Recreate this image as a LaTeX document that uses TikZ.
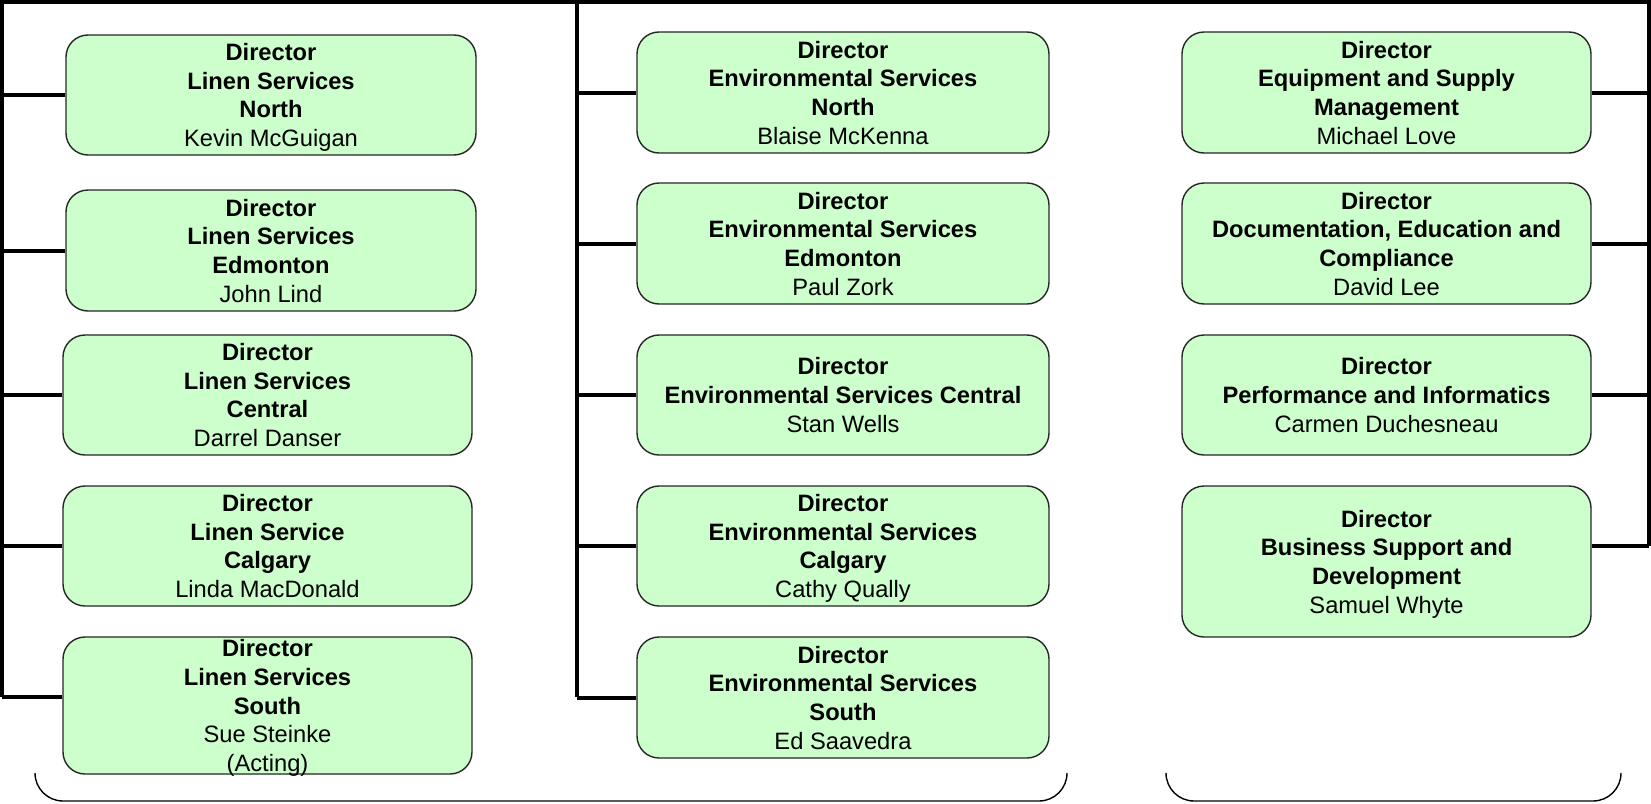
\documentclass[tikz,border=0pt]{standalone}
\usepackage{fontspec}
\setmainfont{Liberation Sans}
\newcommand\nodelast[1]{\raisebox{0pt}[\height][0pt]{#1}}
\begin{document}
\begin{tikzpicture}[x=1pt,y=-1pt,
  box/.style={draw=black!85, line width=1.4pt, fill=boxgreen, rounded corners=22pt,
    align=center, inner sep=0pt, font=\fontsize{23.7pt}{28.7pt}\selectfont},
  wL/.style={box, minimum width=409pt},
  wM/.style={box, minimum width=412pt},
  wR/.style={box, minimum width=409pt},
  trunk/.style={line width=3.6pt},
  conn/.style={line width=4pt},
  brace/.style={line width=1.4pt, rounded corners=28pt}]
\definecolor{boxgreen}{HTML}{CCFFCC}
\useasboundingbox (0,0) rectangle (1651,803);
% trunk coordinates
\coordinate (tl) at (0,1.8);
\coordinate (tr) at (1651,1.8);
\coordinate (lTop) at (1.8,0);
\coordinate (lBot) at (1.8,697);
\coordinate (mTop) at (577,0);
\coordinate (mBot) at (577,697);
\coordinate (rTop) at (1649,0);
\coordinate (rBot) at (1649,546);
% left column
\node[wL, minimum width=410pt, minimum height=120pt] (L1) at (271,95) {\textbf{Director}\\\textbf{Linen Services}\\\textbf{North}\\\nodelast{Kevin McGuigan}};
\node[wL, minimum width=410pt, minimum height=121pt] (L2) at (271,250.5) {\textbf{Director}\\\textbf{Linen Services}\\\textbf{Edmonton}\\\nodelast{John Lind}};
\node[wL, minimum height=120pt] (L3) at (267.5,395) {\textbf{Director}\\\textbf{Linen Services}\\\textbf{Central}\\\nodelast{Darrel Danser}};
\node[wL, minimum height=120pt] (L4) at (267.5,546) {\textbf{Director}\\\textbf{Linen Service}\\\textbf{Calgary}\\\nodelast{Linda MacDonald}};
\node[wL, minimum height=137pt] (L5) at (267.5,705.5) {\textbf{Director}\\\textbf{Linen Services}\\\textbf{South}\\Sue Steinke\\\nodelast{(Acting)}};
% middle column
\node[wM, minimum height=121pt] (M1) at (843,92.5) {\textbf{Director}\\\textbf{Environmental Services}\\\textbf{North}\\\nodelast{Blaise McKenna}};
\node[wM, minimum height=121pt] (M2) at (843,243.5) {\textbf{Director}\\\textbf{Environmental Services}\\\textbf{Edmonton}\\\nodelast{Paul Zork}};
\node[wM, minimum height=120pt] (M3) at (843,395) {\textbf{Director}\\\textbf{Environmental Services Central}\\\nodelast{Stan Wells}};
\node[wM, minimum height=120pt] (M4) at (843,546) {\textbf{Director}\\\textbf{Environmental Services}\\\textbf{Calgary}\\\nodelast{Cathy Qually}};
\node[wM, minimum height=121pt] (M5) at (843,697.5) {\textbf{Director}\\\textbf{Environmental Services}\\\textbf{South}\\\nodelast{Ed Saavedra}};
% right column
\node[wR, minimum height=121pt] (R1) at (1386.5,92.5) {\textbf{Director}\\\textbf{Equipment and Supply}\\\textbf{Management}\\\nodelast{Michael Love}};
\node[wR, minimum height=121pt] (R2) at (1386.5,243.5) {\textbf{Director}\\\textbf{Documentation, Education and}\\\textbf{Compliance}\\\nodelast{David Lee}};
\node[wR, minimum height=120pt] (R3) at (1386.5,395) {\textbf{Director}\\\textbf{Performance and Informatics}\\\nodelast{Carmen Duchesneau}};
\node[wR, minimum height=151pt] (R4) at (1386.5,561.5) {\textbf{Director}\\\textbf{Business Support and}\\\textbf{Development}\\\nodelast{Samuel Whyte}};
% trunks
\draw[trunk] (tl) -- (tr);
\draw[trunk] (lTop) -- (lBot);
\draw[trunk] (mTop) -- (mBot);
\draw[trunk] (rTop) -- (rBot);
% connectors
\foreach \n in {L1,L2,L3,L4} \draw[conn] (lTop |- \n.west) -- (\n.west);
\draw[conn] (lBot) -- (lBot -| L5.west);
\foreach \n in {M1,M2,M3,M4,M5} \draw[conn] (mTop |- \n.west) -- (\n.west);
\foreach \n in {R1,R2,R3} \draw[conn] (\n.east) -- (rTop |- \n.east);
\draw[conn] (rBot -| R4.east) -- (rBot);
% braces
\draw[brace] (35,773) -- (35,801) -- (1067,801) -- (1067,773);
\draw[brace] (1166,773) -- (1166,801) -- (1621,801) -- (1621,773);
\end{tikzpicture}
\end{document}
